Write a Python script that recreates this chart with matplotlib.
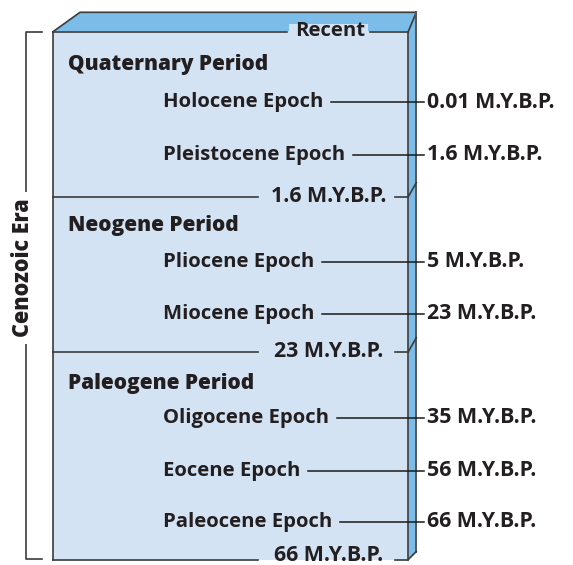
import matplotlib
matplotlib.use('Agg')
import matplotlib.pyplot as plt
from matplotlib.patches import Polygon

plt.rcParams['font.family'] = ['Open Sans', 'DejaVu Sans']

# data
era = 'Cenozoic Era'
top_label = 'Recent'
periods = ['Quaternary Period', 'Neogene Period', 'Paleogene Period']
epochs = ['Holocene Epoch', 'Pleistocene Epoch',
          'Pliocene Epoch', 'Miocene Epoch',
          'Oligocene Epoch', 'Eocene Epoch', 'Paleocene Epoch']
epoch_ages = ['0.01', '1.6', '5', '23', '35', '56', '66']
boundary_ages = ['1.6', '23', '66']
unit = 'M.Y.B.P.'

# layout (pixel rows)
period_y = [64.5, 225.5, 383]
epoch_y = [102, 155, 261.5, 313.5, 417.5, 471, 521.5]
boundary_y = [196.7, 351.7, 559.5]

face = '#d3e3f4'
side = '#7bbde8'
edge = '#3b3b3b'
txt = '#231f20'
fs = 14.6
fs_age = 15.4

fig = plt.figure(figsize=(5.73, 5.65), dpi=100)
ax = fig.add_axes([0, 0, 1, 1])
ax.set_xlim(0, 573)
ax.set_ylim(565, 0)
ax.axis('off')

L, R, T, B = 53.3, 408.3, 31.5, 559.5
BR, BT = 416.3, 12.3

ax.add_patch(Polygon([(L, T), (R, T), (R, B), (L, B)], closed=True,
                     facecolor=face, edgecolor='none', zorder=1))
ax.add_patch(Polygon([(L, T), (80, BT), (BR, BT), (R, T)], closed=True,
                     facecolor=side, edgecolor='none', zorder=1))
ax.add_patch(Polygon([(R, T), (BR, BT), (BR, B - 8), (R, B)], closed=True,
                     facecolor=side, edgecolor='none', zorder=1))

# outline
ax.plot([L, L], [T, B], color=edge, lw=1.2, zorder=2)
ax.plot([R, R], [T, B], color=edge, lw=1.2, zorder=2)
ax.plot([L, 80, BR, R], [T, BT, BT, T], color=edge, lw=1.2, zorder=2)
ax.plot([BR, BR], [BT, B - 8], color='#555555', lw=1.4, zorder=2)

# top edge with Recent
ax.plot([L, 287], [T, T], color=edge, lw=1.2, zorder=2)
ax.plot([370, R], [T, T], color=edge, lw=1.2, zorder=2)
ax.add_patch(Polygon([(289, T - 8), (368, T - 8), (368, T), (289, T)],
                     facecolor=face, edgecolor='none', zorder=1.5))
ax.text(330, T, top_label, ha='center', va='center', fontsize=fs,
        fontweight='bold', color=txt, zorder=3)

# period boundaries
for i, (yb, age) in enumerate(zip(boundary_y, boundary_ages)):
    ax.plot([L, 257.7], [yb, yb], color=edge, lw=1.2, zorder=2)
    ax.plot([395, R], [yb, yb], color=edge, lw=1.2, zorder=2)
    dy = 8 if i == len(boundary_y) - 1 else 14
    ax.plot([R, BR], [yb, yb - dy], color=edge, lw=1.2, zorder=2)
    yt = yb if i < len(boundary_y) - 1 else yb - 4
    ax.text(328.3, yt, age + ' ' + unit, ha='center', va='center',
            fontsize=fs_age, fontweight='bold', color=txt, zorder=3)

# period names
for p, yp in zip(periods, period_y):
    ax.text(67.6, yp, p, ha='left', va='center', fontsize=fs + 0.4,
            fontweight='heavy', color=txt, zorder=3)

# epochs
labels = []
for e, ye, age in zip(epochs, epoch_y, epoch_ages):
    t = ax.text(162.6, ye, e, ha='left', va='center', fontsize=fs,
                fontweight='bold', color=txt, zorder=3)
    labels.append(t)
    ax.text(426.7, ye, age + ' ' + unit, ha='left', va='center',
            fontsize=fs_age, fontweight='bold', color=txt, zorder=3)

fig.canvas.draw()
inv = ax.transData.inverted()
for t, ye in zip(labels, epoch_y):
    bb = t.get_window_extent()
    x_end = inv.transform((bb.x1, bb.y0))[0]
    ax.plot([x_end + 8, 424], [ye, ye], color='#1a1a1a', lw=1.1, zorder=2)

# era bracket
ax.plot([41.7, 26.3, 26.3, 41.7], [32.3, 32.3, 558.7, 558.7],
        color=edge, lw=1.2, zorder=2)
ax.text(23, 268, era, rotation=90, ha='center', va='center', fontsize=15.5,
        fontweight='heavy', color=txt, zorder=3,
        bbox=dict(facecolor='white', edgecolor='none', pad=5))

fig.savefig('out.png', dpi=100)
